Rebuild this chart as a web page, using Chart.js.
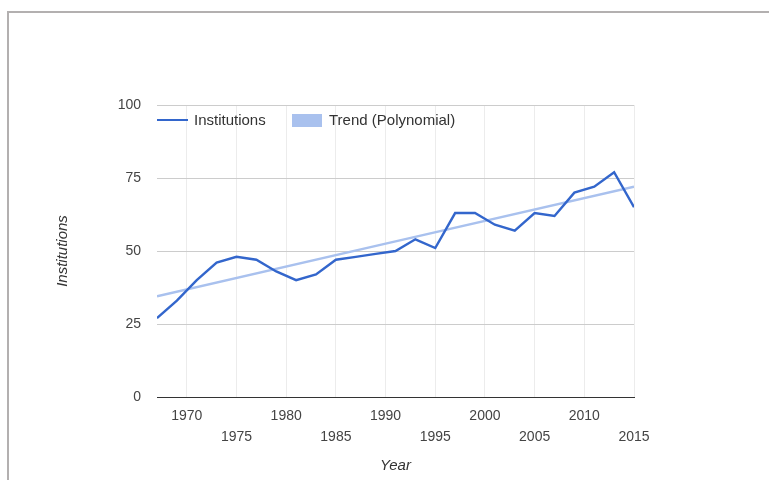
<!DOCTYPE html>
<html lang="en">
<head>
  <meta charset="UTF-8">
  <title>Institutions by Year</title>
  <script src="https://cdn.jsdelivr.net/npm/chart.js"></script>
  <style>
    body {
      margin: 0;
      background: #fff;
      font-family: Arial, 'Liberation Sans', sans-serif;
    }
    .wrap {
      position: relative;
      width: 769px;
      height: 480px;
      overflow: hidden;
    }
    .frame {
      position: absolute;
      left: 7px;
      top: 11px;
      width: 800px;
      height: 500px;
      border-top: 2px solid #b3b0b0;
      border-left: 2px solid #b3b0b0;
    }
    canvas {
      position: absolute;
      left: 0;
      top: 0;
    }
  </style>
</head>
<body>
  <div class="wrap">
    <div class="frame"></div>
    <canvas id="chart" width="769" height="480"></canvas>
  </div>

  <script>
    // Values
    const years = [1967, 1969, 1971, 1973, 1975, 1977, 1979, 1981, 1983, 1985, 1987, 1989, 1991,
                   1993, 1995, 1997, 1999, 2001, 2003, 2005, 2007, 2009, 2011, 2013, 2015];
    const institutions = [27, 33, 40, 46, 48, 47, 43, 40, 42, 47, 48, 49, 50,
                          54, 51, 63, 63, 59, 57, 63, 62, 70, 72, 77, 65];
    const trendYears = [1967, 1991, 2015];
    const trendValues = [34.5, 53.3, 72];
    const xTicks = [1970, 1975, 1980, 1985, 1990, 1995, 2000, 2005, 2010, 2015];
    const yTicks = [0, 25, 50, 75, 100];

    const seriesLabel = 'Institutions';
    const trendLabel = 'Trend (Polynomial)';
    const lineColor = '#3366cc';
    const trendColor = '#a9c1ee';
    const fontFamily = "Arial, 'Liberation Sans', sans-serif";

    // Legend and axis titles, drawn by hand to sit where the original has them
    const decorations = {
      id: 'decorations',
      afterDraw(chart) {
        const ctx = chart.ctx;
        const area = chart.chartArea;
        ctx.save();
        ctx.font = '15px ' + fontFamily;
        ctx.fillStyle = '#333';
        ctx.textBaseline = 'middle';

        const ly = area.top + 15;
        ctx.strokeStyle = lineColor;
        ctx.lineWidth = 2;
        ctx.beginPath();
        ctx.moveTo(area.left, ly);
        ctx.lineTo(area.left + 31, ly);
        ctx.stroke();
        ctx.fillText(seriesLabel, area.left + 37, ly + 1);

        ctx.fillStyle = trendColor;
        ctx.fillRect(area.left + 135, ly - 6, 30, 13);
        ctx.fillStyle = '#333';
        ctx.fillText(trendLabel, area.left + 172, ly + 1);

        ctx.font = 'italic 15px ' + fontFamily;
        ctx.textAlign = 'center';
        ctx.fillText('Year', (area.left + area.right) / 2, 466);

        ctx.translate(63, (area.top + area.bottom) / 2);
        ctx.rotate(-Math.PI / 2);
        ctx.fillText(seriesLabel, 0, 0);
        ctx.restore();
      }
    };

    new Chart(document.getElementById('chart'), {
      type: 'line',
      data: {
        datasets: [
          {
            label: seriesLabel,
            data: years.map((y, i) => ({ x: y, y: institutions[i] })),
            borderColor: lineColor,
            borderWidth: 2.4,
            pointRadius: 0,
            tension: 0
          },
          {
            label: trendLabel,
            data: trendYears.map((y, i) => ({ x: y, y: trendValues[i] })),
            borderColor: trendColor,
            borderWidth: 2.5,
            pointRadius: 0,
            tension: 0
          }
        ]
      },
      options: {
        responsive: false,
        animation: false,
        layout: { padding: { left: 0, right: 135, top: 105, bottom: 0 } },
        plugins: {
          legend: { display: false },
          tooltip: { enabled: false }
        },
        scales: {
          x: {
            type: 'linear',
            min: 1967,
            max: 2015,
            afterBuildTicks: scale => { scale.ticks = xTicks.map(v => ({ value: v })); },
            afterFit: scale => { scale.height = 83; },
            ticks: {
              color: '#444',
              font: { family: fontFamily, size: 14, lineHeight: 1.55 },
              padding: 8,
              maxRotation: 0,
              autoSkip: false,
              callback: (v, i) => (i % 2 === 0 ? [String(v)] : ['', String(v)])
            },
            grid: { color: '#ececec', drawTicks: false },
            border: { color: '#333', width: 1 }
          },
          y: {
            min: 0,
            max: 100,
            afterBuildTicks: scale => { scale.ticks = yTicks.map(v => ({ value: v })); },
            afterFit: scale => { scale.width = 157; },
            ticks: {
              color: '#444',
              font: { family: fontFamily, size: 14 },
              padding: 16
            },
            grid: { color: '#cccccc', drawTicks: false },
            border: { display: false }
          }
        }
      },
      plugins: [decorations]
    });
  </script>
</body>
</html>
